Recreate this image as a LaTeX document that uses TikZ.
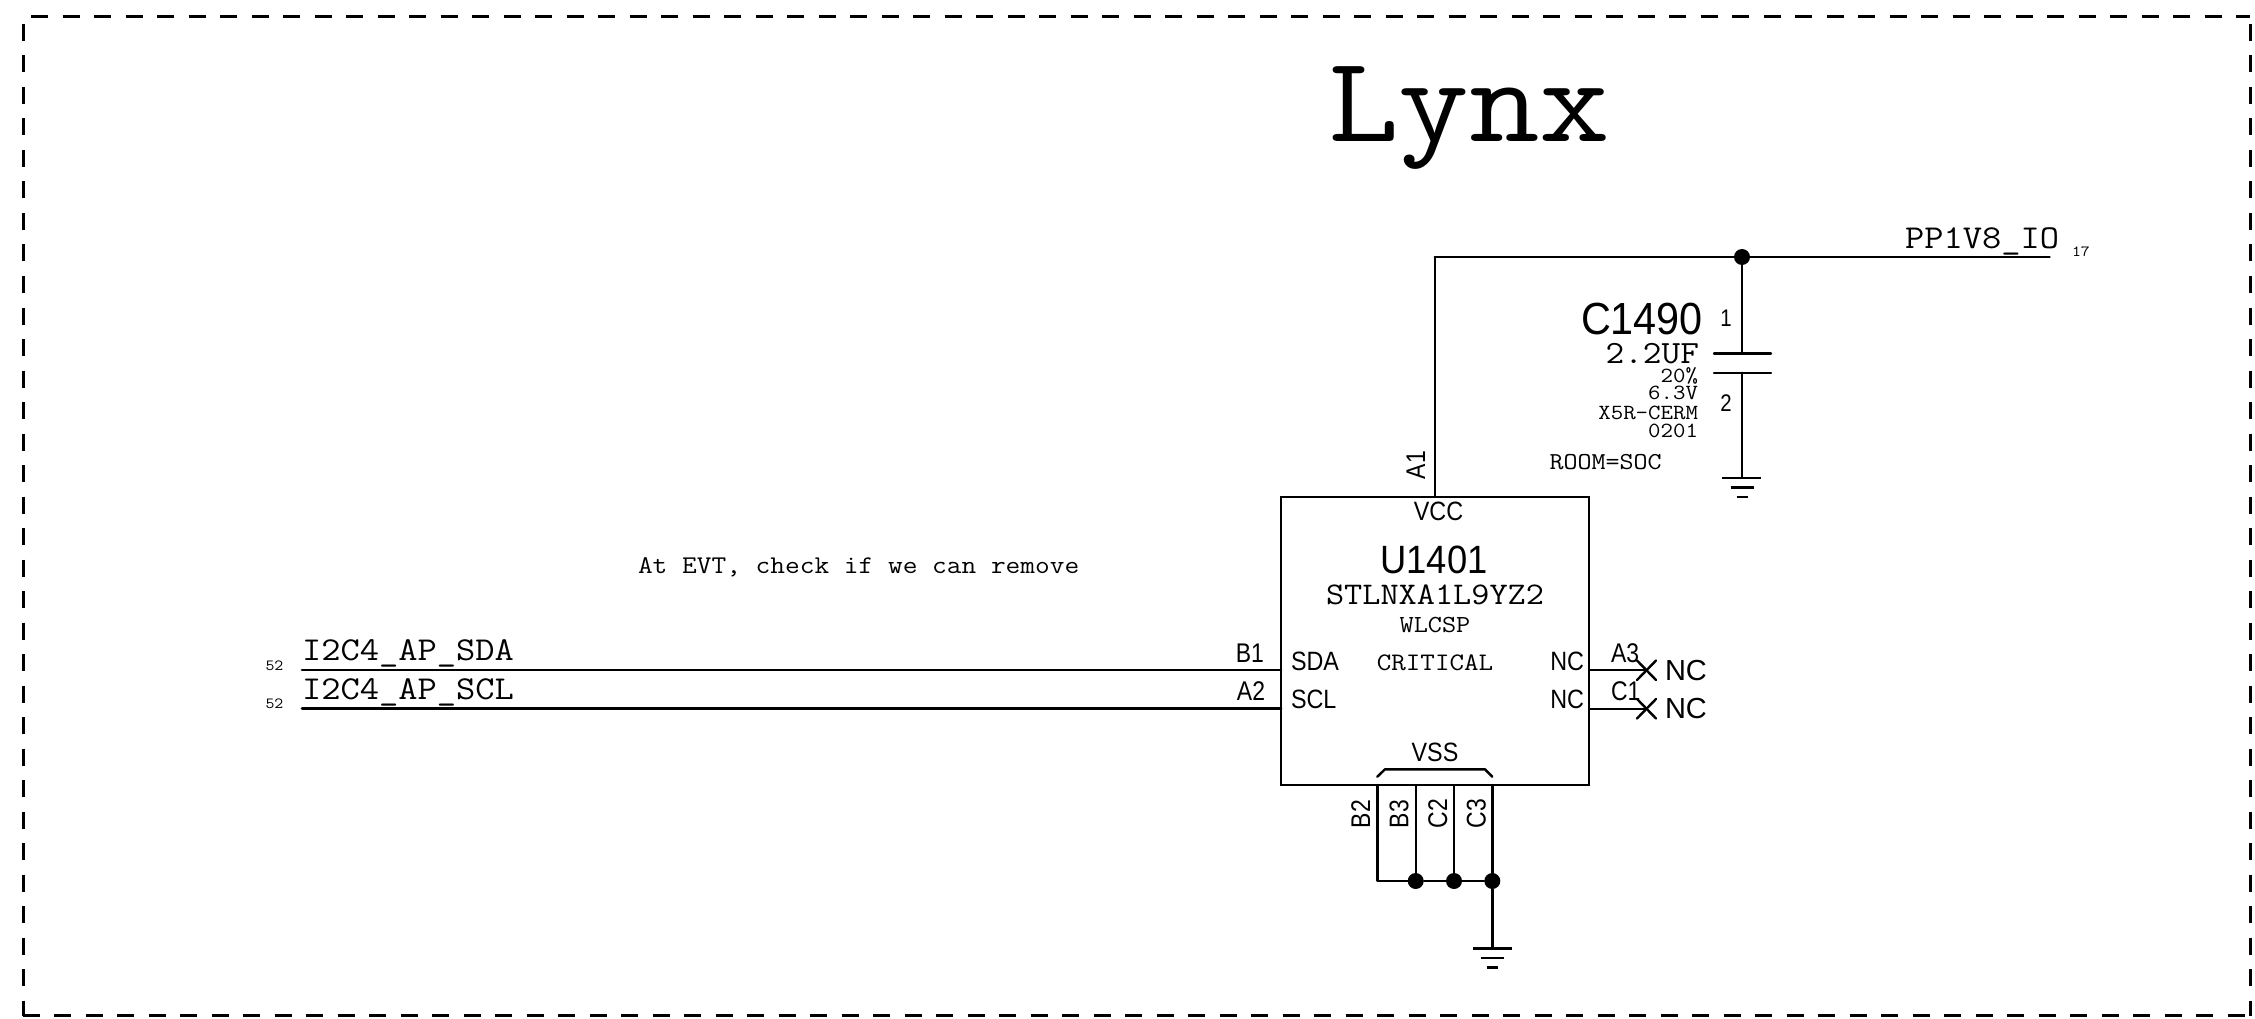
\documentclass[tikz,border=0pt]{standalone}
\usepackage{fontspec}
\setmainfont{Liberation Sans}
\newfontfamily\monofam[FakeStretch=1.12]{Latin Modern Mono}
\newfontfamily\pinfam[FakeStretch=0.88]{Liberation Sans}
\newfontfamily\numfam[FakeStretch=0.85]{Liberation Sans}
\newfontfamily\reffam[FakeStretch=0.92]{Liberation Sans}
\newcommand{\fs}[1]{\fontsize{#1}{#1}\selectfont}
\tikzset{
  txt/.style={inner sep=0pt,outer sep=0pt,text=black},
  mono/.style={txt,font=\monofam\fs{#1}},
  pinname/.style={txt,font=\pinfam\fs{26.5}},
  pinnum/.style={txt,font=\numfam\fs{27}},
  refdes/.style={txt,font=\reffam\fs{#1}},
  wire/.style={draw=black,line width=2.4pt,line cap=round,line join=round},
  net/.style={draw=black,line width=2.8pt,line cap=round,line join=round},
  frameline/.style={draw=black,line width=3pt,dash pattern=on 17pt off 14.5pt},
  junction/.style={circle,fill=black,inner sep=0pt,minimum size=16pt},
  chip/.style={draw=black,line width=2.4pt,rectangle,inner sep=0pt,minimum width=308pt,minimum height=288pt},
}
\begin{document}
\begin{tikzpicture}[x=1pt,y=-1pt]
\useasboundingbox (0,0) rectangle (2255,1019);
% frame
\coordinate (ftl) at (31,17); \coordinate (ftr) at (2250,17);
\coordinate (fbl) at (22.5,1015.3); \coordinate (fbr) at (2250,1015.3);
\coordinate (fl1) at (23.4,24); \coordinate (fl2) at (23.4,1016);
\coordinate (fr1) at (2250.3,24); \coordinate (fr2) at (2250.3,1016);
\draw[frameline] (ftl) -- (ftr);
\draw[frameline] (fbl) -- (fbr);
\draw[frameline] (fl1) -- (fl2);
\draw[frameline] (fr1) -- (fr2);
% title
\node[mono=122.5,anchor=base west] (title) at (1328,141.7) {Lynx};
% chip
\node[chip] (u) at (1435,641) {};
\coordinate (vccpin) at (1435,497);
\coordinate (vcccorner) at (1435,257);
\node[junction] (j1) at (1742,257) {};
\coordinate (ppend) at (2049.5,257);
\draw[net] (vcccorner) -- (j1) -- (ppend);
\draw[wire] (vccpin) -- (vcccorner);
% capacitor
\coordinate (capt) at (1742,353.3);
\coordinate (capb) at (1742,372.7);
\coordinate (capg) at (1742,478);
\coordinate (capt1) at (1714,353.3); \coordinate (capt2) at (1771,353.3);
\coordinate (capb1) at (1714,372.7); \coordinate (capb2) at (1771,372.7);
\draw[wire] (j1) -- (capt);
\draw[wire] (capt1) -- (capt2);
\draw[wire] (capb1) -- (capb2);
\draw[wire] (capb) -- (capg);
\coordinate (g1a) at (1722,478); \coordinate (g1b) at (1761,478);
\coordinate (g1c) at (1730.6,487.5); \coordinate (g1d) at (1754,487.5);
\coordinate (g1e) at (1736.5,497); \coordinate (g1f) at (1748,497);
\draw[wire,line cap=butt] (g1a) -- (g1b);
\draw[wire,line cap=butt] (g1c) -- (g1d);
\draw[wire,line cap=butt] (g1e) -- (g1f);
% left nets
\coordinate (sdaL) at (302,670); \coordinate (sdaR) at (1281,670);
\coordinate (sclL) at (302,708.7); \coordinate (sclR) at (1281,708.7);
\draw[net] (sdaL) -- (sdaR);
\draw[net] (sclL) -- (sclR);
% NC pins
\coordinate (a3L) at (1589,670); \coordinate (a3R) at (1646.5,670);
\coordinate (c1L) at (1589,708.7); \coordinate (c1R) at (1646.5,708.7);
\draw[wire] (a3L) -- (a3R);
\draw[wire] (c1L) -- (c1R);
\coordinate (x1a) at (1637,660.5); \coordinate (x1b) at (1656,680);
\coordinate (x1c) at (1637,680); \coordinate (x1d) at (1656,660.5);
\coordinate (x2a) at (1637,699); \coordinate (x2b) at (1656,718.5);
\coordinate (x2c) at (1637,718.5); \coordinate (x2d) at (1656,699);
\draw[wire] (x1a) -- (x1b);
\draw[wire] (x1c) -- (x1d);
\draw[wire] (x2a) -- (x2b);
\draw[wire] (x2c) -- (x2d);
% VSS brace
\coordinate (br1) at (1377.3,776.7); \coordinate (br2) at (1385,769.3);
\coordinate (br3) at (1485,769.3); \coordinate (br4) at (1492.3,776.7);
\draw[wire] (br1) -- (br2) -- (br3) -- (br4);
% bottom pins
\coordinate (b2t) at (1377.3,785); \coordinate (b3t) at (1415.7,785);
\coordinate (c2t) at (1454,785); \coordinate (c3t) at (1492.3,785);
\coordinate (b2b) at (1377.3,881);
\node[junction] (j2) at (1415.7,881) {};
\node[junction] (j3) at (1454,881) {};
\node[junction] (j4) at (1492.3,881) {};
\coordinate (gnd) at (1492.3,948.3);
\draw[wire] (b2t) -- (b2b) -- (j2) -- (j3) -- (j4);
\draw[wire] (b3t) -- (j2);
\draw[wire] (c2t) -- (j3);
\draw[wire] (c3t) -- (j4) -- (gnd);
\coordinate (g2a) at (1473,948.3); \coordinate (g2b) at (1511.7,948.3);
\coordinate (g2c) at (1481,958); \coordinate (g2d) at (1504,958);
\coordinate (g2e) at (1486.7,967.3); \coordinate (g2f) at (1498.3,967.3);
\draw[wire,line cap=butt] (g2a) -- (g2b);
\draw[wire,line cap=butt] (g2c) -- (g2d);
\draw[wire,line cap=butt] (g2e) -- (g2f);
% net labels
\node[mono=33.4,anchor=base west] (pp) at (1905,248) {PP1V8\_IO};
\node[mono=15.5,anchor=base west] (pp17) at (2072,256.7) {17};
\node[mono=33.4,anchor=base west] (sdaT) at (302,660.7) {I2C4\_AP\_SDA};
\node[mono=33.4,anchor=base west] (sclT) at (302,699) {I2C4\_AP\_SCL};
\node[mono=15.5,anchor=base west] (s52a) at (265.5,670.7) {52};
\node[mono=15.5,anchor=base west] (s52b) at (265.5,708.3) {52};
\node[mono=25.5,anchor=base west] (note) at (638,573) {At EVT, check if we can remove};
% capacitor labels
\node[refdes=45,anchor=base east] (cref) at (1703,334) {C1490};
\node[mono=32.4,anchor=base east] (cval) at (1699,363) {2.2UF};
\node[mono=21.6,anchor=base east] (c20) at (1698,382) {20\%};
\node[mono=21.6,anchor=base east] (c63) at (1698,399) {6.3V};
\node[mono=21.6,anchor=base east] (cx5) at (1698,419) {X5R-CERM};
\node[mono=21.6,anchor=base east] (c02) at (1698,437.7) {0201};
\node[mono=24.3,anchor=base west] (room) at (1549.5,469.3) {ROOM=SOC};
\node[txt,font=\numfam\fs{24},anchor=base] (cp1) at (1726,326) {1};
\node[txt,font=\numfam\fs{24},anchor=base] (cp2) at (1726,411.5) {2};
% chip labels
\node[refdes=39.5,anchor=base] (uref) at (1434,573.3) {U1401};
\node[mono=31.5,anchor=base] (upart) at (1435,604) {STLNXA1L9YZ2};
\node[mono=24.5,anchor=base] (upkg) at (1435,632) {WLCSP};
\node[mono=25.2,anchor=base] (ucrit) at (1435,670) {CRITICAL};
\node[pinname,anchor=base] (vcc) at (1438.5,520) {VCC};
\node[pinname,anchor=base] (vss) at (1435,761.5) {VSS};
\node[pinname,anchor=base west] (sda) at (1291,670) {SDA};
\node[pinname,anchor=base west] (scl) at (1291,708) {SCL};
\node[pinname,anchor=base east] (nc1) at (1584,670) {NC};
\node[pinname,anchor=base east] (nc2) at (1584,708) {NC};
\node[txt,font=\fs{29},anchor=base west] (nc3) at (1665,680) {NC};
\node[txt,font=\fs{29},anchor=base west] (nc4) at (1665,718) {NC};
% pin numbers
\node[pinnum,anchor=base east] (b1) at (1264,662) {B1};
\node[pinnum,anchor=base east] (a2) at (1265,700.7) {A2};
\node[pinnum,anchor=base west] (a3) at (1611,662) {A3};
\node[pinnum,anchor=base west] (c1) at (1611,700.7) {C1};
\node[pinnum,anchor=base west,rotate=90] (a1) at (1425,479) {A1};
\node[pinnum,anchor=base west,rotate=90] (b2) at (1370,828) {B2};
\node[pinnum,anchor=base west,rotate=90] (b3) at (1408.3,828) {B3};
\node[pinnum,anchor=base west,rotate=90] (c2) at (1447,828) {C2};
\node[pinnum,anchor=base west,rotate=90] (c3) at (1485.5,828) {C3};
\end{tikzpicture}
\end{document}
